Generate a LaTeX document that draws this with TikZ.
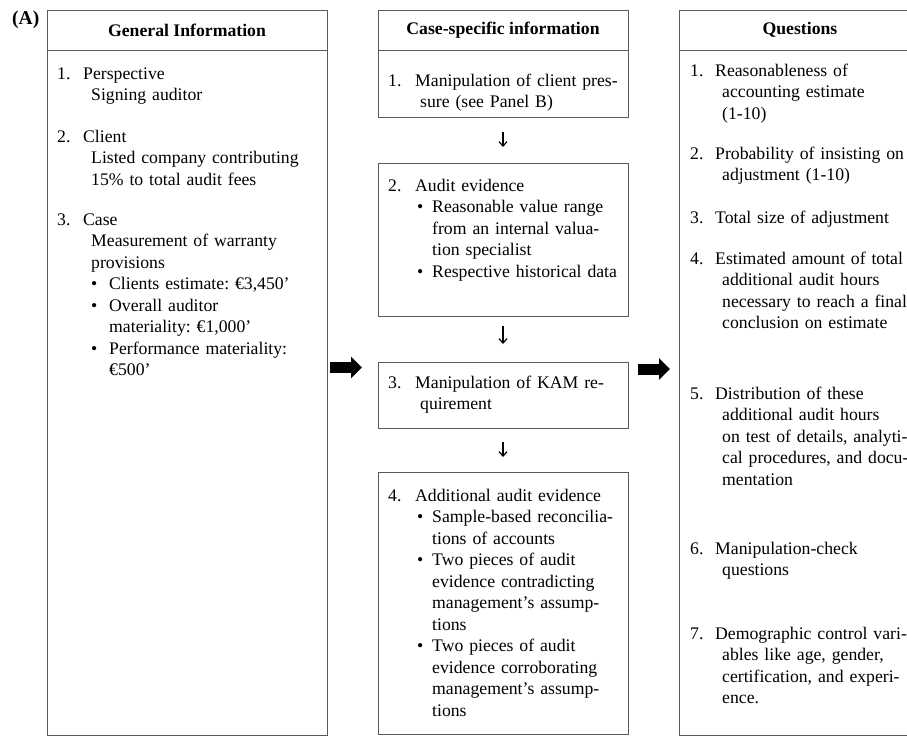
\documentclass[tikz,border=0pt]{standalone}
\usepackage{fontspec}
\setmainfont{Liberation Serif}
\usetikzlibrary{arrows.meta,positioning}
\frenchspacing

\newlength{\numw}
\newlength{\contw}
\newlength{\bulx}
\newlength{\bulw}
\newcommand{\qnum}[1]{\makebox[\numw][l]{#1}}
\newcommand{\qcont}{\hspace*{\contw}}
\newcommand{\qbul}{\hspace*{\bulx}\makebox[\bulw][l]{\textbullet}}
\newcommand{\qbcont}{\hspace*{\dimexpr\bulx+\bulw\relax}}

\begin{document}
\begin{tikzpicture}[x=1pt,y=-1pt,
   every node/.style={font=\fontsize{17.7}{21.5}\selectfont},
   frame/.style={rectangle,draw=black!65,line width=1pt,inner sep=0pt,outer sep=0pt},
   headbox/.style={frame,font=\fontsize{17.7}{21.5}\selectfont\bfseries},
   txt/.style={anchor=base west,inner sep=0pt,text width=300pt,align=left},
   leftcol/.style={txt,execute at begin node={\setlength{\numw}{26pt}\setlength{\contw}{34pt}\setlength{\bulx}{34pt}\setlength{\bulw}{18pt}}},
   midcol/.style={txt,execute at begin node={\setlength{\numw}{27pt}\setlength{\contw}{32pt}\setlength{\bulx}{29pt}\setlength{\bulw}{15pt}}},
   rightcol/.style={txt,execute at begin node={\setlength{\numw}{25pt}\setlength{\contw}{32pt}}},
   flowarrow/.style={line width=1.2pt,-{Straight Barb[length=4.5pt,width=8pt]}},
   bigarrow/.style={line width=11pt,-{Triangle[length=11pt,width=21pt]}}
   ]
  \useasboundingbox (0,0) rectangle (907,736);

  \node[txt] at (12,24) (panel) {\fontsize{19.5}{22}\selectfont\bfseries (A)};

  % -- general information
  \node[headbox,minimum width=280pt,minimum height=40pt] at (187,30) (gihead) {General Information};
  \node[frame,minimum width=280pt,minimum height=685pt,below=0pt of gihead] (gibody) {};

  \node[leftcol] at (57,79) (gi1) {\qnum{1.}Perspective\\\qcont Signing auditor};
  \node[leftcol] at (57,142) (gi2) {\qnum{2.}Client\\\qcont Listed company contributing\\\qcont 15\% to total audit fees};
  \node[leftcol] at (57,225) (gi3) {\qnum{3.}Case\\\qcont Measurement of warranty\\\qcont provisions\\\qbul Clients estimate: €3,450’\\\qbul Overall auditor\\\qbcont materiality: €1,000’\\\qbul Performance materiality:\\\qbcont €500’};

  % -- case-specific information
  \node[headbox,minimum width=250pt,minimum height=40pt] at (503,30) (cshead) {Case-specific information};
  \node[frame,minimum width=250pt,minimum height=67pt,below=0pt of cshead] (cs1) {};
  \node[frame,minimum width=250pt,minimum height=153pt] at (503,239.5) (cs2) {};
  \node[frame,minimum width=250pt,minimum height=66pt] at (503,395) (kam) {};
  \node[frame,minimum width=250pt,minimum height=262pt] at (503,603) (cs4) {};

  \node[midcol] at (388,86) (cs1txt) {\qnum{1.}Manipulation of client pres-\\\qcont sure (see Panel B)};
  \node[midcol] at (388,191) (cs2txt) {\qnum{2.}Audit evidence\\\qbul Reasonable value range\\\qbcont from an internal valua-\\\qbcont tion specialist\\\qbul Respective historical data};
  \node[midcol] at (388,388) (kamtxt) {\qnum{3.}Manipulation of KAM re-\\\qcont quirement};
  \node[midcol] at (388,501) (cs4txt) {\qnum{4.}Additional audit evidence\\\qbul Sample-based reconcilia-\\\qbcont tions of accounts\\\qbul Two pieces of audit\\\qbcont evidence contradicting\\\qbcont management’s assump-\\\qbcont tions\\\qbul Two pieces of audit\\\qbcont evidence corroborating\\\qbcont management’s assump-\\\qbcont tions};

  % -- arrows between the steps
  \draw[flowarrow,shorten <=15pt,shorten >=16pt] (cs1) -- (cs2);
  \draw[flowarrow,shorten <=10pt,shorten >=18pt] (cs2) -- (kam);
  \draw[flowarrow,shorten <=14pt,shorten >=15pt] (kam) -- (cs4);

  % -- questions
  \node[headbox,minimum width=242pt,minimum height=40pt] at (800,30) (qhead) {Questions};
  \node[frame,minimum width=242pt,minimum height=685pt,below=0pt of qhead] (qbody) {};

  \node[rightcol] at (690,76) (q1) {\qnum{1.}Reasonableness of\\\qcont accounting estimate\\\qcont (1-10)};
  \node[rightcol] at (690,159) (q2) {\qnum{2.}Probability of insisting on\\\qcont adjustment (1-10)};
  \node[rightcol] at (690,223) (q3) {\qnum{3.}Total size of adjustment};
  \node[rightcol] at (690,264) (q4) {\qnum{4.}Estimated amount of total\\\qcont additional audit hours\\\qcont necessary to reach a final\\\qcont conclusion on estimate};
  \node[rightcol] at (690,399) (q5) {\qnum{5.}Distribution of these\\\qcont additional audit hours\\\qcont on test of details, analyti-\\\qcont cal procedures, and docu-\\\qcont mentation};
  \node[rightcol] at (690,554) (q6) {\qnum{6.}Manipulation-check\\\qcont questions};
  \node[rightcol] at (690,639) (q7) {\qnum{7.}Demographic control vari-\\\qcont ables like age, gender,\\\qcont certification, and experi-\\\qcont ence.};

  % -- thick arrows
  \draw[bigarrow,shorten <=3pt,shorten >=16pt] ([yshift=25pt]gibody.east) -- ([yshift=25pt]gibody.east -| kam.west);
  \draw[bigarrow,shorten <=10pt,shorten >=9pt] ([yshift=26pt]kam.east) -- ([yshift=26pt]kam.east -| qbody.west);

\end{tikzpicture}
\end{document}
